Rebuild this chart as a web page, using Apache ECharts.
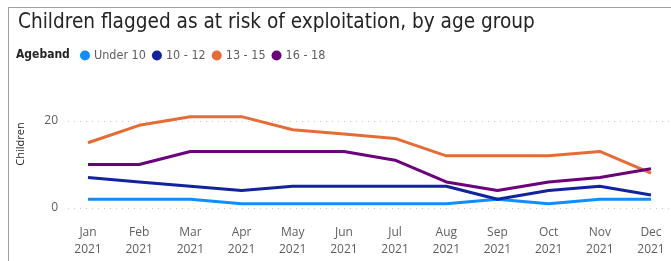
<!DOCTYPE html>
<html>
<head>
<meta charset="utf-8">
<script src="https://cdn.jsdelivr.net/npm/echarts@6/dist/echarts.min.js"></script>
<style>
html,body{margin:0;padding:0;background:#fff;}
#frame{position:absolute;left:8px;top:7px;width:700px;height:300px;border-left:1px solid #a0a0a0;border-top:1px solid #a0a0a0;}
#chart{position:absolute;left:0;top:0;width:671px;height:261px;}
</style>
</head>
<body>
<div id="frame"></div>
<div id="chart"></div>
<script>
const categories = ['Jan\n2021','Feb\n2021','Mar\n2021','Apr\n2021','May\n2021','Jun\n2021','Jul\n2021','Aug\n2021','Sep\n2021','Oct\n2021','Nov\n2021','Dec\n2021'];
const under10 = [2,2,2,1,1,1,1,1,2,1,2,2];
const age10to12 = [7,6,5,4,5,5,5,5,2,4,5,3];
const age13to15 = [15,19,21,21,18,17,16,12,12,12,13,8];
const age16to18 = [10,10,13,13,13,13,11,6,4,6,7,9];
const seriesNames = ['Under 10','10 - 12','13 - 15','16 - 18'];
const yTicks = [0,20];

const colors = ['#118DFF','#12239E','#E66C37','#6B007B'];
const labelColor = '#605E5C';
const font = 'Segoe UI, "Open Sans", sans-serif';
const cond = '"DejaVu Sans Condensed"';

const chart = echarts.init(document.getElementById('chart'), null, {renderer:'canvas'});
const mk = (name, data, i) => ({
  name, type:'line', data, xAxisIndex:0, yAxisIndex:0,
  symbol:'none', lineStyle:{width:3, color:colors[i]}, itemStyle:{color:colors[i]},
  clip:false, z: 10
});
chart.setOption({
  animation:false,
  title:{text:'Children flagged as at risk of exploitation, by age group', left:13, top:7,
    textStyle:{fontFamily:cond, fontSize:20.6, fontWeight:'normal', color:'#252423'}},
  graphic:[{type:'text', left:16, top:49, style:{text:'Ageband', font:'bold 12px ' + cond, fill:'#252423'}}],
  legend:{data:seriesNames, left:80, top:49, padding:0, icon:'circle', itemWidth:10, itemHeight:10, itemGap:6,
    textStyle:{fontFamily:cond, fontSize:12.5, color:labelColor, padding:[0,0,0,-1]}},
  grid:[
    {left:88, right:20, top:121, bottom:53, containLabel:false},
    {left:68, right:0, top:121, bottom:53},
    {left:68, right:0, top:80, bottom:53}
  ],
  xAxis:[
    {type:'category', gridIndex:0, data:categories, boundaryGap:false,
      axisLine:{show:false}, axisTick:{show:false},
      axisLabel:{color:labelColor, fontSize:12, fontFamily:font, lineHeight:17, margin:16, interval:0}},
    {type:'category', gridIndex:1, data:categories, show:false},
    {type:'category', gridIndex:2, data:categories, show:false}
  ],
  yAxis:[
    {type:'value', gridIndex:0, min:0, max:20, interval:20, show:false},
    {type:'value', gridIndex:1, min:0, max:20, interval:20,
      axisLine:{show:false}, axisTick:{show:false},
      axisLabel:{color:labelColor, fontSize:12, fontFamily:font, margin:10},
      splitLine:{show:true, lineStyle:{type:[1,5], color:'#C8C8C8', width:1}}},
    {type:'value', gridIndex:2, min:0, max:20, name:'Children', nameLocation:'middle', nameGap:42,
      nameTextStyle:{color:'#252423', fontSize:11, fontFamily:font},
      axisLine:{show:false}, axisTick:{show:false}, axisLabel:{show:false}, splitLine:{show:false}}
  ],
  series:[
    mk(seriesNames[0], under10, 0),
    mk(seriesNames[1], age10to12, 1),
    mk(seriesNames[2], age13to15, 2),
    mk(seriesNames[3], age16to18, 3)
  ]
});
</script>
</body>
</html>
